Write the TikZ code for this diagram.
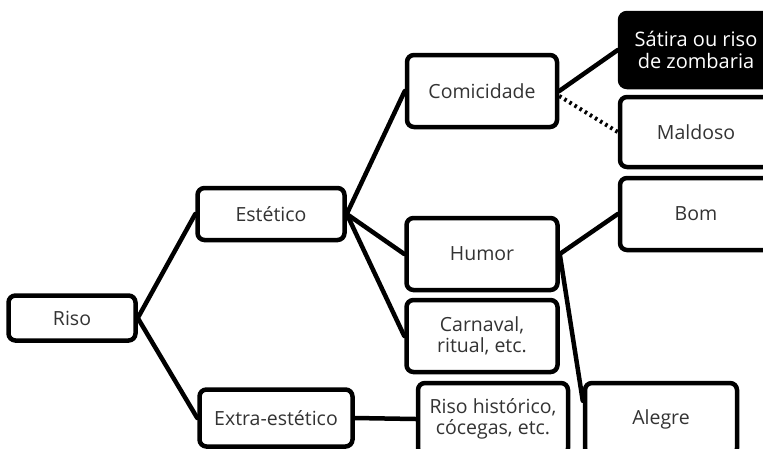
\documentclass[tikz,border=0pt]{standalone}
\usepackage{fontspec}
\setmainfont{Open Sans}
\begin{document}
\begin{tikzpicture}[x=1pt,y=-1pt,
  box/.style={draw=black, line width=4.5pt, rounded corners=7pt, fill=white,
    align=center, inner sep=0pt, font=\fontsize{19.5}{21}\selectfont, text=black!80},
  darkbox/.style={box, fill=black, text=white, font=\fontsize{20}{21.5}\selectfont},
  link/.style={line width=4.5pt, line cap=round},
  dotlink/.style={line width=4pt, dash pattern=on 2.5pt off 3.5pt}]
\clip (0,0) rectangle (763,448);
\fill[white] (0,0) rectangle (763,448);
\node[box, minimum width=127pt, minimum height=45pt] (riso) at (72,318) {Riso};
\node[box, minimum width=147pt, minimum height=52pt] (est) at (271,214) {Estético};
\node[box, minimum width=153pt, minimum height=57pt] (ext) at (276,418) {Extra-estético};
\node[box, minimum width=150pt, minimum height=72pt] (com) at (482,91) {Comicidade};
\node[box, minimum width=151pt, minimum height=72pt] (hum) at (482,254) {Humor};
\node[box, minimum width=151pt, minimum height=72pt] (car) at (482,336) {Carnaval,\\ritual, etc.};
\node[box, minimum width=150pt, minimum height=72pt] (his) at (493,419) {Riso histórico,\\cócegas, etc.};
\node[darkbox, minimum width=152pt, minimum height=74pt] (sat) at (696,50) {Sátira ou riso\\de zombaria};
\node[box, minimum width=152pt, minimum height=70pt] (mal) at (696,132) {Maldoso};
\node[box, minimum width=152pt, minimum height=72pt] (bom) at (696,214) {Bom};
\node[box, minimum width=152pt, minimum height=72pt] (ale) at (661,419) {Alegre};
\draw[link] (riso.east) -- (est.west);
\draw[link] (riso.east) -- (ext.west);
\draw[link] (est.east) -- (com.west);
\draw[link] (est.east) -- (hum.west);
\draw[link] (est.east) -- (car.west);
\draw[link] (ext.east) -- (his.west);
\draw[link] (com.east) -- (sat.west);
\draw[dotlink] ([yshift=-5pt]com.east) -- (mal.west);
\draw[link] (hum.east) -- (bom.west);
\coordinate (alin) at ([yshift=-20pt]ale.north west);
\draw[link] (hum.east) -- (alin);
\end{tikzpicture}
\end{document}
